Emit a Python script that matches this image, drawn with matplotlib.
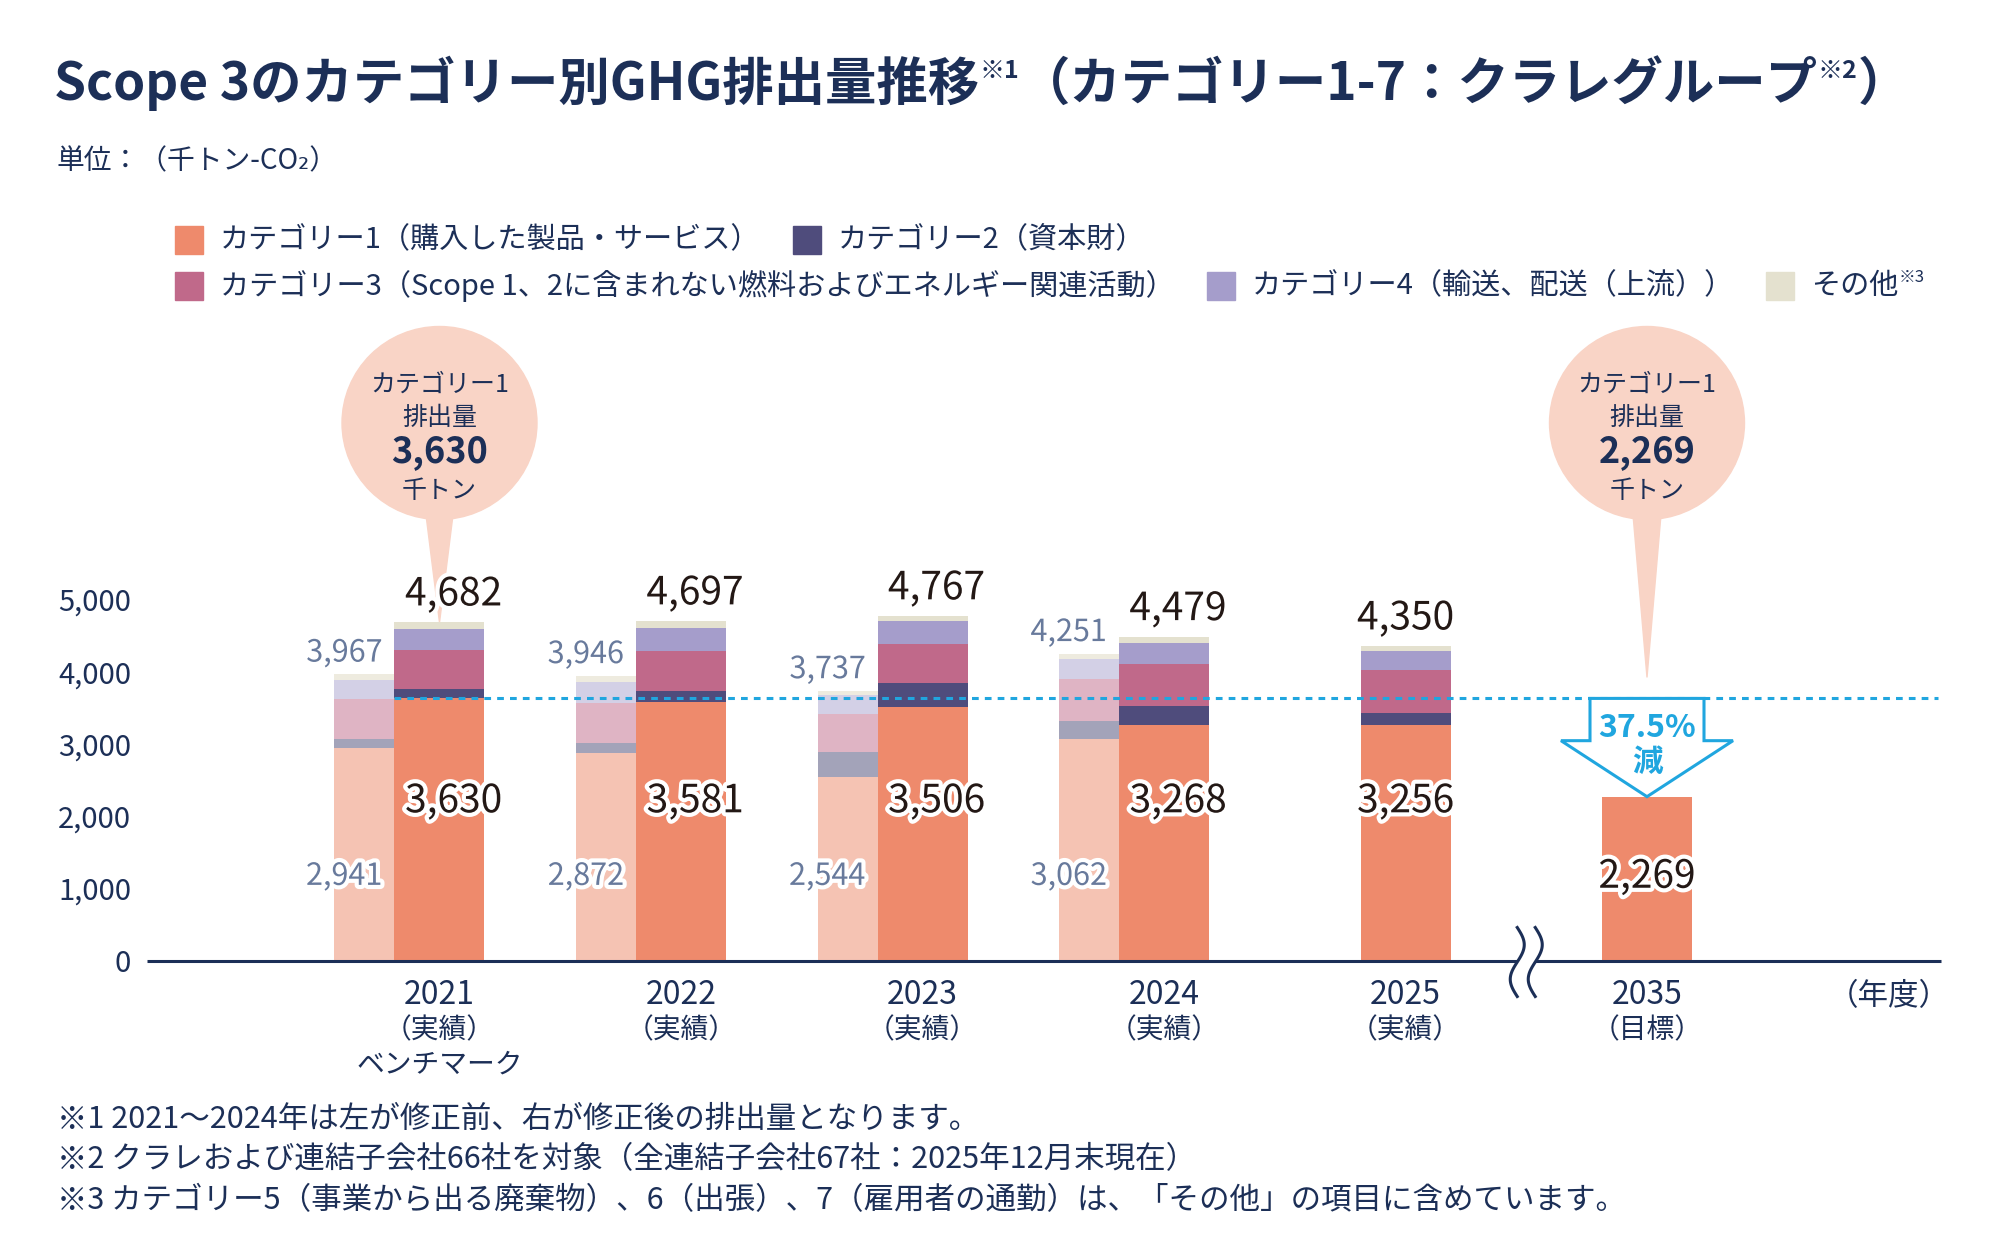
import matplotlib
matplotlib.use('Agg')
import matplotlib.pyplot as plt
import matplotlib.patheffects as pe
from matplotlib.patches import Ellipse, Polygon, Rectangle
import numpy as np

plt.rcParams['font.family'] = ['Noto Sans CJK JP', 'DejaVu Sans']

# ---- data (千トン-CO2) ----
years = ['2021', '2022', '2023', '2024', '2025', '2035']
year_notes = ['（実績）', '（実績）', '（実績）', '（実績）', '（実績）', '（目標）']

# 修正後 (right bars)
cat1 = [3630, 3581, 3506, 3268, 3256, 2269]
cat2 = [124, 154, 340, 259, 170, 0]
cat3 = [553, 549, 540, 577, 596, 0]
cat4 = [290, 328, 314, 296, 268, 0]
other = [85, 85, 67, 79, 60, 0]

# 修正前 (left bars, 2021-2024)
old_cat1 = [2941, 2872, 2544, 3062]
old_cat2 = [124, 147, 337, 253]
old_cat3 = [550, 550, 531, 581]
old_cat4 = [265, 286, 268, 273]
old_other = [87, 91, 57, 82]

legend_labels = ['カテゴリー1（購入した製品・サービス）', 'カテゴリー2（資本財）',
                 'カテゴリー3（Scope 1、2に含まれない燃料およびエネルギー関連活動）',
                 'カテゴリー4（輸送、配送（上流））', 'その他']

footnotes = ['※1 2021～2024年は左が修正前、右が修正後の排出量となります。',
             '※2 クラレおよび連結子会社66社を対象（全連結子会社67社：2025年12月末現在）',
             '※3 カテゴリー5（事業から出る廃棄物）、6（出張）、7（雇用者の通勤）は、「その他」の項目に含めています。']

NAVY = '#1c2f57'
BLACK = '#231815'
GREY = '#687a9c'
CYAN = '#20a6df'
BALLOON = '#f9d4c6'
new_colors = ['#ee8a6c', '#4f4c7c', '#c0698a', '#a59dcb', '#e4e1cf']
old_colors = ['#f5c3b3', '#a3a3b9', '#dfb4c4', '#d3d0e6', '#eeebdf']

W, H = 2000, 1254
fig = plt.figure(figsize=(20, 12.54), dpi=100)
fig.patch.set_facecolor('white')
r = fig.canvas.get_renderer()

# axes geometry (pixels)
AX_L, AX_R, AX_B = 147, 1941, 960.5
PX_UNIT = 241.5
PX_1000 = 72.2
X0_PX = 439.5
xlim = ((AX_L - X0_PX) / PX_UNIT, (AX_R - X0_PX) / PX_UNIT)
ylim = (0, 9000)
AX_T = AX_B - ylim[1] * PX_1000 / 1000
ax = fig.add_axes([AX_L / W, 1 - AX_B / H, (AX_R - AX_L) / W, (AX_B - AX_T) / H])
ax.set_xlim(*xlim)
ax.set_ylim(*ylim)
ax.patch.set_visible(False)
for s in ax.spines.values():
    s.set_visible(False)


def dx(px):
    return px / PX_UNIT


def dy(px):
    return px * 1000 / PX_1000


def ypx(py):
    return (AX_B - py) * 1000 / PX_1000


x = np.arange(len(years), dtype=float)
w_new = dx(90)
w_old = dx(60)

# right (修正後) stacked bars
bottom = np.zeros(len(years))
for vals, c in zip([cat1, cat2, cat3, cat4, other], new_colors):
    ax.bar(x, vals, w_new, bottom=bottom, color=c, zorder=2, linewidth=0)
    bottom += np.array(vals)
totals = bottom.copy()

# left (修正前) stacked bars
xo = x[:4] - w_new / 2 - w_old / 2
ob = np.zeros(4)
for vals, c in zip([old_cat1, old_cat2, old_cat3, old_cat4, old_other], old_colors):
    ax.bar(xo, vals, w_old, bottom=ob, color=c, zorder=2, linewidth=0)
    ob += np.array(vals)
old_totals = ob.copy()

# benchmark dashed line
ax.hlines(cat1[0], x[0] - w_new / 2, xlim[1] - dx(3), colors=CYAN,
          linestyles=(0, (2.2, 2.0)), lw=2.2, zorder=3)

# x axis line with break
bx = (x[4] + x[5]) / 2
g = dx(9)
ax.plot([xlim[0], bx - g], [0, 0], color=NAVY, lw=2.2, solid_capstyle='butt', clip_on=False, zorder=3)
ax.plot([bx + g, xlim[1]], [0, 0], color=NAVY, lw=2.2, solid_capstyle='butt', clip_on=False, zorder=3)
t = np.linspace(0, 1, 60)
for xc in (bx - g, bx + g):
    ax.plot(xc + dx(7) * np.sin(2 * np.pi * t), dy(33) - t * dy(69), color=NAVY, lw=2.2,
            clip_on=False, zorder=3)

# y ticks
yt = list(range(0, 5001, 1000))
ax.set_yticks(yt)
ax.set_yticklabels([f'{v:,}' for v in yt], fontsize=21, color=NAVY)
ax.tick_params(axis='y', length=0, pad=11.5)
ax.set_xticks([])

stroke = [pe.withStroke(linewidth=6, foreground='white')]

# value labels
for i in range(5):
    off = dx(14) if i < 4 else 0
    ax.annotate(f'{int(totals[i]):,}', (x[i] + off, totals[i]), xytext=(0, 28),
                textcoords='offset pixels', ha='center', va='center', fontsize=28,
                color=BLACK, zorder=6, path_effects=stroke)
    ax.text(x[i] + off, 2205, f'{cat1[i]:,}', ha='center', va='center', fontsize=28,
            color=BLACK, zorder=6, path_effects=stroke)
ax.text(x[5], 1160, f'{cat1[5]:,}', ha='center', va='center', fontsize=28,
        color=BLACK, zorder=6, path_effects=stroke)
for i in range(4):
    xr = x[i] - w_new / 2 - dx(12)
    ax.text(xr, 1165, f'{old_cat1[i]:,}', ha='right', va='center', fontsize=22,
            color=GREY, zorder=6, path_effects=stroke)
    ax.annotate(f'{int(old_totals[i]):,}', (xr, old_totals[i]), xytext=(0, 21),
                textcoords='offset pixels', ha='right', va='center', fontsize=22,
                color=GREY, zorder=6, path_effects=stroke)


# balloons
def balloon(xc, tip_y, value):
    cy = ypx(423)
    ax.add_patch(Ellipse((xc, cy), dx(195), dy(193), color=BALLOON, zorder=1, clip_on=False))
    ax.add_patch(Polygon([(xc - dx(15), cy - dy(80)), (xc + dx(15), cy - dy(80)), (xc, tip_y)],
                         closed=True, color=BALLOON, zorder=1, clip_on=False))
    ax.text(xc, cy + dy(38), 'カテゴリー1', ha='center', va='center', fontsize=18, color=NAVY)
    ax.text(xc, cy + dy(5), '排出量', ha='center', va='center', fontsize=18, color=NAVY)
    ax.text(xc, cy - dy(29), f'{value:,}', ha='center', va='center', fontsize=26,
            fontweight='bold', color=NAVY)
    ax.text(xc, cy - dy(68), '千トン', ha='center', va='center', fontsize=18, color=NAVY)


balloon(x[0], totals[0], cat1[0])
balloon(x[5], cat1[0] + dy(21), cat1[5])

# reduction arrow
xa = x[5]
top = cat1[0]
tip = cat1[5]
base = tip + dy(56)
hs, hh = dx(57), dx(86)
pts = [(xa - hs, top), (xa - hs, base), (xa - hh, base), (xa, tip),
       (xa + hh, base), (xa + hs, base), (xa + hs, top)]
ax.add_patch(Polygon(pts, closed=True, fc='white', ec=CYAN, lw=2.2, joinstyle='miter', zorder=4))
reduction = (1 - cat1[5] / cat1[0]) * 100
ax.text(xa, top - dy(30), f'{reduction:.1f}%', ha='center', va='center', fontsize=23,
        fontweight='bold', color=CYAN, zorder=5)
ax.text(xa, top - dy(64), '減', ha='center', va='center', fontsize=22,
        fontweight='bold', color=CYAN, zorder=5)

# x labels
for i, (yr, note) in enumerate(zip(years, year_notes)):
    ax.annotate(yr, (x[i], 0), xytext=(0, -34), textcoords='offset pixels', ha='center',
                va='center', fontsize=23, color=NAVY, annotation_clip=False)
    ax.annotate(note, (x[i], 0), xytext=(0, -70), textcoords='offset pixels', ha='center',
                va='center', fontsize=20, color=NAVY, annotation_clip=False)
ax.annotate('ベンチマーク', (x[0], 0), xytext=(0, -104), textcoords='offset pixels',
            ha='center', va='center', fontsize=20, color=NAVY, annotation_clip=False)
ax.annotate('（年度）', (x[5] + 1, 0), xytext=(0, -36), textcoords='offset pixels',
            ha='center', va='center', fontsize=22, color=NAVY, annotation_clip=False)


# ---- figure-level texts ----
def ftext(xp, yp, s, **kw):
    return fig.text(xp / W, 1 - yp / H, s, **kw)


def seq(xp, parts):
    for s, yp, size, weight in parts:
        tt = ftext(xp, yp, s, fontsize=size, fontweight=weight, color=NAVY, va='baseline', ha='left')
        xp = tt.get_window_extent(renderer=r).x1
    return xp


seq(54, [('Scope 3のカテゴリー別GHG排出量推移', 100, 37, 'bold'),
         ('※1', 78, 18, 'bold'),
         ('（カテゴリー1-7：クラレグループ', 100, 37, 'bold'),
         ('※2', 78, 18, 'bold'),
         ('）', 100, 37, 'bold')])
ftext(57, 161, '単位：（千トン-CO₂）', fontsize=20, color=NAVY, va='center', ha='left')


def legend_row(yp, idx):
    xp = 175
    for i in idx:
        fig.patches.append(Rectangle((xp / W, 1 - (yp + 14) / H), 28 / W, 28 / H,
                                     transform=fig.transFigure, color=new_colors[i]))
        tt = ftext(xp + 45, yp, legend_labels[i], fontsize=21, color=NAVY, va='center', ha='left')
        xe = tt.get_window_extent(renderer=r).x1
        if i == 4:
            tt = ftext(xe, yp - 9, '※3', fontsize=12, color=NAVY, va='center', ha='left')
            xe = tt.get_window_extent(renderer=r).x1
        xp = xe + 32


legend_row(240, [0, 1])
legend_row(286, [2, 3, 4])

for k, note in enumerate(footnotes):
    ftext(57, 1119 + 41 * k, note, fontsize=22, color=NAVY, va='center', ha='left')

fig.savefig('out.png', dpi=100, facecolor='white')
